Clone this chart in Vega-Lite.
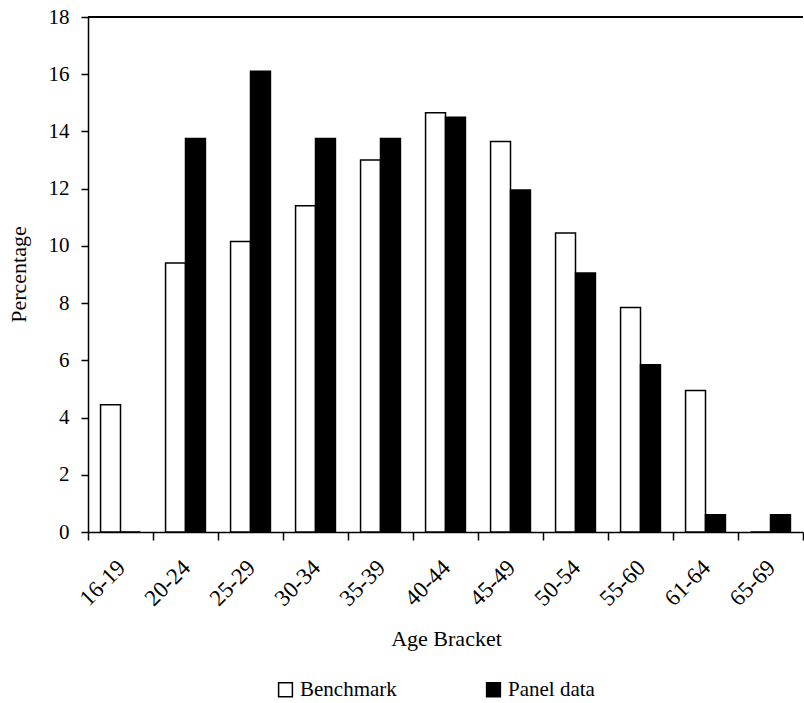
{
  "$schema": "https://vega.github.io/schema/vega-lite/v6.json",
  "width": 715,
  "height": 515,
  "autosize": {"type": "none"},
  "padding": {"left": 88, "top": 17, "right": 1, "bottom": 171},
  "background": "white",
  "config": {
    "font": "Liberation Serif",
    "view": {"stroke": null},
    "axis": {"labelFont": "Liberation Serif", "titleFont": "Liberation Serif", "labelColor": "black", "titleColor": "black", "domainColor": "black", "tickColor": "black", "titleFontWeight": "normal", "grid": false},
    "legend": {"labelFont": "Liberation Serif"}
  },
  "data": {
    "values": [
      {"age": "16-19", "series": "Benchmark", "pct": 4.45},
      {"age": "16-19", "series": "Panel data", "pct": 0},
      {"age": "20-24", "series": "Benchmark", "pct": 9.4},
      {"age": "20-24", "series": "Panel data", "pct": 13.75},
      {"age": "25-29", "series": "Benchmark", "pct": 10.15},
      {"age": "25-29", "series": "Panel data", "pct": 16.1},
      {"age": "30-34", "series": "Benchmark", "pct": 11.4},
      {"age": "30-34", "series": "Panel data", "pct": 13.75},
      {"age": "35-39", "series": "Benchmark", "pct": 13.0},
      {"age": "35-39", "series": "Panel data", "pct": 13.75},
      {"age": "40-44", "series": "Benchmark", "pct": 14.65},
      {"age": "40-44", "series": "Panel data", "pct": 14.5},
      {"age": "45-49", "series": "Benchmark", "pct": 13.65},
      {"age": "45-49", "series": "Panel data", "pct": 11.95},
      {"age": "50-54", "series": "Benchmark", "pct": 10.45},
      {"age": "50-54", "series": "Panel data", "pct": 9.05},
      {"age": "55-60", "series": "Benchmark", "pct": 7.85},
      {"age": "55-60", "series": "Panel data", "pct": 5.85},
      {"age": "61-64", "series": "Benchmark", "pct": 4.95},
      {"age": "61-64", "series": "Panel data", "pct": 0.6},
      {"age": "65-69", "series": "Benchmark", "pct": 0},
      {"age": "65-69", "series": "Panel data", "pct": 0.6}
    ]
  },
  "layer": [
    {
      "mark": {"type": "bar", "stroke": "black", "strokeWidth": 1.5},
      "encoding": {
        "x": {
          "field": "age", "type": "nominal", "sort": null,
          "scale": {"paddingInner": 0, "paddingOuter": 0},
          "axis": {"title": "Age Bracket", "titleFontSize": 22, "titleX": 358, "titleY": 106, "titleBaseline": "middle", "labelAngle": -45, "labelFontSize": 23, "labelPadding": 16, "labelOffset": -7, "tickSize": 8, "tickBand": "extent", "domainWidth": 1.5, "tickWidth": 1.5}
        },
        "xOffset": {"field": "series", "type": "nominal", "scale": {"paddingInner": 0, "paddingOuter": 0.63}},
        "y": {
          "field": "pct", "type": "quantitative",
          "scale": {"domain": [0, 18], "nice": false},
          "axis": {"title": "Percentage", "titleFontSize": 22, "titleAngle": -90, "titleX": -70, "titleY": 257, "titleAlign": "center", "titleBaseline": "middle", "values": [0, 2, 4, 6, 8, 10, 12, 14, 16, 18], "labelFontSize": 21, "labelPadding": 12, "tickSize": 7, "domainWidth": 1.5, "tickWidth": 1.5}
        },
        "fill": {
          "field": "series", "type": "nominal",
          "scale": {"domain": ["Benchmark", "Panel data"], "range": ["white", "black"]},
          "legend": {"title": null, "orient": "none", "direction": "horizontal", "legendX": 187, "legendY": 662, "symbolType": "square", "symbolSize": 190, "symbolStrokeColor": "black", "symbolStrokeWidth": 1.5, "labelFontSize": 21, "labelColor": "black", "labelOffset": 4, "columnPadding": 86}
        }
      }
    },
    {
      "mark": {"type": "rule", "color": "black", "strokeWidth": 1.5},
      "encoding": {"y": {"datum": 18}}
    }
  ]
}
